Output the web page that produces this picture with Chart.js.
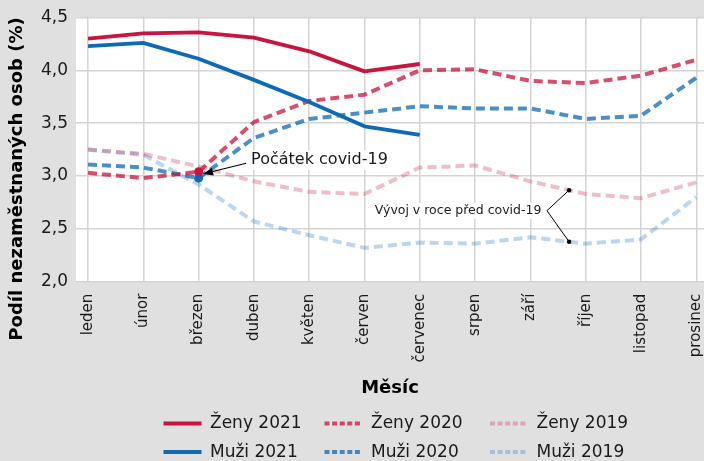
<!DOCTYPE html>
<html>
<head>
<meta charset="utf-8">
<script src="https://cdn.jsdelivr.net/npm/chart.js@4/dist/chart.umd.min.js"></script>
<style>
  html, body { margin: 0; padding: 0; background: #e0e0e0; }
  #wrap { width: 704px; height: 461px; }
</style>
</head>
<body>
<div id="wrap"><canvas id="c" width="704" height="461"></canvas></div>
<script>
// ---- data ----
const months = ['leden','únor','březen','duben','květen','červen','červenec','srpen','září','říjen','listopad','prosinec'];
const yTicks = [2.0, 2.5, 3.0, 3.5, 4.0, 4.5];
const seriesNames = ['Ženy 2021','Muži 2021','Ženy 2020','Muži 2020','Ženy 2019','Muži 2019'];
const zeny2021 = [4.30, 4.35, 4.36, 4.31, 4.18, 3.99, 4.06];
const muzi2021 = [4.23, 4.26, 4.11, 3.91, 3.70, 3.47, 3.39];
const zeny2020 = [3.03, 2.98, 3.04, 3.51, 3.71, 3.77, 4.00, 4.01, 3.90, 3.88, 3.95, 4.10];
const muzi2020 = [3.11, 3.08, 2.98, 3.36, 3.54, 3.60, 3.66, 3.64, 3.64, 3.54, 3.57, 3.93];
const zeny2019 = [3.25, 3.21, 3.09, 2.95, 2.85, 2.83, 3.08, 3.10, 2.95, 2.83, 2.79, 2.94];
const muzi2019 = [3.25, 3.20, 2.92, 2.57, 2.44, 2.32, 2.37, 2.36, 2.42, 2.36, 2.40, 2.80];
const covidStartIndex = 2;
const annotCovid = 'Počátek covid-19';
const annotPre = 'Vývoj v roce před covid-19';

// ---- styles ----
const RED = 'rgb(200,20,62)';
const BLUE = 'rgb(14,106,182)';
const RED20 = 'rgba(200,20,62,0.75)';
const BLUE20 = 'rgba(14,106,182,0.75)';
const RED19 = 'rgba(200,20,62,0.28)';
const BLUE19 = 'rgba(30,120,200,0.30)';
const FONT = 'DejaVu Sans';
const TXT = '#1a1a1a';

function pts(arr) { return arr.map((v, i) => ({ x: i, y: v })); }
function markerRadii(arr, r) { return arr.map((v, i) => i === covidStartIndex ? r : 0); }

const datasets = [
  { label: seriesNames[0], data: pts(zeny2021), borderColor: RED, borderWidth: 3.8, pointRadius: 0, legendDash: [] },
  { label: seriesNames[1], data: pts(muzi2021), borderColor: BLUE, borderWidth: 3.8, pointRadius: 0, legendDash: [] },
  { label: seriesNames[2], data: pts(zeny2020), borderColor: RED20, borderWidth: 4, borderDash: [9, 5],
    pointRadius: markerRadii(zeny2020, 4.5), pointBackgroundColor: RED, pointBorderWidth: 0, legendDash: [5, 2.6] },
  { label: seriesNames[3], data: pts(muzi2020), borderColor: BLUE20, borderWidth: 4, borderDash: [9, 5],
    pointRadius: markerRadii(muzi2020, 4.5), pointBackgroundColor: BLUE, pointBorderWidth: 0, legendDash: [5, 2.6] },
  { label: seriesNames[4], data: pts(zeny2019), borderColor: RED19, borderWidth: 4, borderDash: [9, 5], pointRadius: 0, legendDash: [5, 2.6] },
  { label: seriesNames[5], data: pts(muzi2019), borderColor: BLUE19, borderWidth: 4, borderDash: [9, 5], pointRadius: 0, legendDash: [5, 2.6] }
];
datasets.forEach(d => { d.fill = false; d.tension = 0; d.borderCapStyle = 'butt'; d.borderJoinStyle = 'round'; d.pointHoverRadius = 0; });

function interp(arr, xv) {
  const i = Math.floor(xv), f = xv - i;
  return arr[i] + (arr[i + 1] - arr[i]) * f;
}

const bgPlugin = {
  id: 'bg',
  beforeDraw(chart) {
    const { ctx, chartArea: a } = chart;
    ctx.save();
    ctx.fillStyle = '#e0e0e0';
    ctx.fillRect(0, 0, chart.width, chart.height);
    ctx.fillStyle = '#ffffff';
    ctx.fillRect(a.left, a.top, a.right - a.left, a.bottom - a.top);
    ctx.restore();
  }
};

const annotPlugin = {
  id: 'annot',
  beforeDatasetsDraw(chart) {
    const { ctx } = chart;
    const xs = chart.scales.x, ys = chart.scales.y;
    ctx.save();
    ctx.fillStyle = '#ffffff';
    ctx.font = '16px "' + FONT + '"';
    let w = ctx.measureText(annotCovid).width;
    let tx = xs.getPixelForValue(covidStartIndex + 0.95), ty = ys.getPixelForValue(3.15);
    ctx.fillRect(tx - 3, ty - 10, w + 6, 20);
    ctx.font = '12.5px "' + FONT + '"';
    w = ctx.measureText(annotPre).width;
    let rx = xs.getPixelForValue(8.2), ry = ys.getPixelForValue(2.672);
    ctx.fillRect(rx - w - 3, ry - 8, w + 6, 16);
    ctx.restore();
  },
  afterDatasetsDraw(chart) {
    const { ctx } = chart;
    const xs = chart.scales.x, ys = chart.scales.y;
    ctx.save();
    ctx.fillStyle = TXT;
    ctx.strokeStyle = '#000';
    ctx.font = '16px "' + FONT + '"';
    ctx.textBaseline = 'middle';
    ctx.textAlign = 'left';
    const tx = xs.getPixelForValue(covidStartIndex + 0.95), ty = ys.getPixelForValue(3.15);
    ctx.fillText(annotCovid, tx, ty);
    const px = xs.getPixelForValue(covidStartIndex) + 4.5;
    const py = (ys.getPixelForValue(zeny2020[covidStartIndex]) + ys.getPixelForValue(muzi2020[covidStartIndex])) / 2 - 1;
    const sx = tx - 5, sy = ty + 3;
    const ang = Math.atan2(py - sy, px - sx);
    const hl = 10, hw = 4;
    const bx = px - hl * Math.cos(ang), by = py - hl * Math.sin(ang);
    ctx.lineWidth = 1.1;
    ctx.beginPath(); ctx.moveTo(sx, sy); ctx.lineTo(bx, by); ctx.stroke();
    ctx.fillStyle = '#000';
    ctx.beginPath();
    ctx.moveTo(px, py);
    ctx.lineTo(bx + hw * Math.sin(ang), by - hw * Math.cos(ang));
    ctx.lineTo(bx - hw * Math.sin(ang), by + hw * Math.cos(ang));
    ctx.closePath(); ctx.fill();
    ctx.fillStyle = TXT;
    ctx.font = '12.5px "' + FONT + '"';
    ctx.textAlign = 'right';
    const rx = xs.getPixelForValue(8.2), ry = ys.getPixelForValue(2.672);
    ctx.fillText(annotPre, rx, ry);
    const ax = xs.getPixelForValue(8.3), ay = ry;
    const dxv = 8.7;
    const d1 = { x: xs.getPixelForValue(dxv), y: ys.getPixelForValue(interp(zeny2019, dxv)) };
    const d2 = { x: xs.getPixelForValue(dxv), y: ys.getPixelForValue(interp(muzi2019, dxv)) };
    ctx.lineWidth = 1;
    ctx.beginPath(); ctx.moveTo(d1.x, d1.y); ctx.lineTo(ax, ay); ctx.lineTo(d2.x, d2.y); ctx.stroke();
    ctx.fillStyle = '#000';
    [d1, d2].forEach(d => { ctx.beginPath(); ctx.arc(d.x, d.y, 2.2, 0, Math.PI * 2); ctx.fill(); });
    ctx.restore();
  },
  afterDraw(chart) {
    const { ctx } = chart;
    ctx.save();
    ctx.font = 'bold 18px "' + FONT + '"';
    ctx.fillStyle = '#000';
    ctx.textAlign = 'center';
    ctx.textBaseline = 'middle';
    ctx.translate(17.5, 179);
    ctx.rotate(-Math.PI / 2);
    ctx.fillText('Podíl nezaměstnaných osob (%)', 0, 0);
    ctx.restore();
    ctx.save();
    const order = [0, 2, 4, 1, 3, 5];
    const colX = [163.5, 324.5, 490];
    const rowY = [423.5, 452];
    ctx.font = '17px "' + FONT + '"';
    ctx.textBaseline = 'middle';
    ctx.textAlign = 'left';
    order.forEach((di, k) => {
      const ds = chart.data.datasets[di];
      const col = k % 3, row = Math.floor(k / 3);
      const x0 = colX[col], y0 = rowY[row];
      ctx.strokeStyle = ds.borderColor;
      ctx.lineWidth = 4;
      ctx.setLineDash(ds.legendDash);
      ctx.lineCap = 'butt';
      ctx.beginPath(); ctx.moveTo(x0, y0); ctx.lineTo(x0 + 38, y0); ctx.stroke();
      ctx.setLineDash([]);
      ctx.fillStyle = TXT;
      ctx.fillText(ds.label, x0 + 46.5, y0 + 0.5);
    });
    ctx.restore();
  }
};

Chart.defaults.font.family = FONT;
Chart.defaults.color = TXT;

new Chart(document.getElementById('c'), {
  type: 'line',
  data: { datasets },
  options: {
    responsive: false,
    devicePixelRatio: 1,
    animation: false,
    events: [],
    layout: { padding: { top: 17.5, left: 0, right: 0, bottom: 0 } },
    plugins: { legend: { display: false }, tooltip: { enabled: false } },
    scales: {
      x: {
        type: 'linear',
        min: -0.217,
        max: 11.14,
        afterBuildTicks(scale) { scale.ticks = months.map((m, i) => ({ value: i })); },
        afterFit(scale) { scale.height = 461 - 281.7; scale.paddingLeft = 0; scale.paddingRight = 0; },
        ticks: {
          autoSkip: false, minRotation: 90, maxRotation: 90, padding: 12,
          font: { size: 15 }, color: TXT,
          callback: (v) => months[v]
        },
        grid: { color: '#d4d4d4', lineWidth: 1.5, drawTicks: false },
        border: { display: false },
        title: { display: true, text: 'Měsíc', font: { size: 18, weight: 'bold' }, color: '#000', padding: { top: 0, bottom: 62 } }
      },
      y: {
        min: 2.0,
        max: 4.5,
        afterBuildTicks(scale) { scale.ticks = yTicks.map(v => ({ value: v })); },
        afterFit(scale) { scale.width = 76; scale.paddingTop = 0; scale.paddingBottom = 0; },
        ticks: {
          padding: 8, font: { size: 17 }, color: TXT,
          callback: (v) => v.toFixed(1).replace('.', ',')
        },
        grid: { color: '#d4d4d4', lineWidth: 1.5, drawTicks: false },
        border: { display: false }
      }
    }
  },
  plugins: [bgPlugin, annotPlugin]
});
</script>
</body>
</html>
